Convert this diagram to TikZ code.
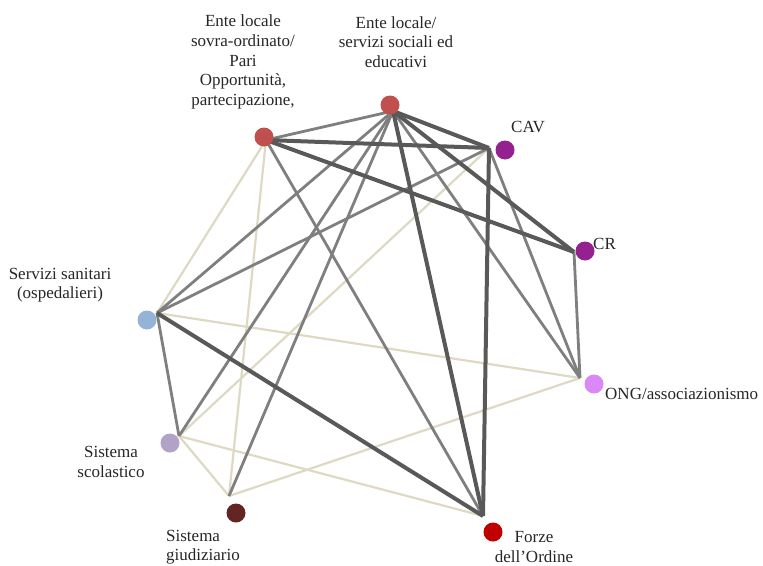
\documentclass[tikz,border=0pt]{standalone}
\usepackage{fontspec}
\setmainfont{Liberation Serif}
\definecolor{thickc}{HTML}{595959}
\definecolor{grayc}{HTML}{7F7F7F}
\definecolor{beigec}{HTML}{DDD9C3}
\definecolor{redn}{HTML}{C0504D}
\definecolor{purpn}{HTML}{93218F}
\definecolor{bluen}{HTML}{95B3D7}
\definecolor{lilacn}{HTML}{B2A2C7}
\definecolor{maroonn}{HTML}{632523}
\definecolor{forzen}{HTML}{C00000}
\definecolor{ongn}{HTML}{DA88F5}
\tikzset{
  dot/.style={circle,minimum size=19pt,inner sep=0pt,fill=#1},
  strong/.style={draw=thickc,line width=4pt},
  medium/.style={draw=grayc,line width=2.8pt},
  weak/.style={draw=beigec,line width=2.2pt},
  lbl/.style={inner sep=0pt,font=\fontsize{17}{19.6}\selectfont,text=black!85}
}
\begin{document}
\begin{tikzpicture}[x=1pt,y=-1pt]
\useasboundingbox (0,0) rectangle (763,565);
% hubs where connectors meet
\coordinate (hS) at (266,140);
\coordinate (hE) at (393,111);
\coordinate (hCAV) at (489,148);
\coordinate (hCR) at (574,252);
\coordinate (hONG) at (580,378);
\coordinate (hFO) at (483,516);
\coordinate (hSG) at (229,496);
\coordinate (hSC) at (179,436);
\coordinate (hSS) at (157,313);
% weak ties
\draw[weak] (hS) -- (hSS);
\draw[weak] (hS) -- (hSG);
\draw[weak] (hCAV) -- (hSC);
\draw[weak] (hSS) -- (hONG);
\draw[weak] (hSG) -- (hONG);
\draw[weak] (hSC) -- (hSG);
\draw[weak] (hSC) -- (hFO);
% medium ties
\draw[medium] (hS) -- (hE);
\draw[medium] (hS) -- (hFO);
\draw[medium] (hE) -- (hSS);
\draw[medium] (hE) -- (hSC);
\draw[medium] (hE) -- (hSG);
\draw[medium] (hE) -- (hONG);
\draw[medium] (hCAV) -- (hONG);
\draw[medium] (hCAV) -- (hSS);
\draw[medium] (hCR) -- (hONG);
\draw[medium] (hSS) -- (hSC);
% strong ties
\draw[strong] (hS) -- (hCAV);
\draw[strong] (hS) -- (hCR);
\draw[strong] (hE) -- (hCAV);
\draw[strong] (hE) -- (hCR);
\draw[strong] (hE) -- (hFO);
\draw[strong] (hCAV) -- (hFO);
\draw[strong] (hSS) -- (hFO);
% nodes
\node[dot=redn] (S) at (264,137) {};
\node[dot=redn] (E) at (390,105) {};
\node[dot=purpn] (CAV) at (505,150) {};
\node[dot=purpn] (CR) at (585,251) {};
\node[dot=bluen] (SS) at (147,320) {};
\node[dot=lilacn] (SC) at (170,443) {};
\node[dot=maroonn] (SG) at (236,513) {};
\node[dot=forzen] (FO) at (493,532) {};
\node[dot=ongn] (ONG) at (594,384) {};
% labels
\node[lbl,align=center] (lS) at (243,62) {Ente locale\\sovra-ordinato/\\Pari\\Opportunità,\\partecipazione,};
\node[lbl,align=center] (lE) at (396,42) {Ente locale/\\servizi sociali ed\\educativi};
\node[lbl,anchor=west] (lCAV) at (511,127) {CAV};
\node[lbl,anchor=west] (lCR) at (593,244) {CR};
\node[lbl,align=center] (lSS) at (60,285) {Servizi sanitari\\(ospedalieri)};
\node[lbl,align=center] (lSC) at (111,462) {Sistema\\scolastico};
\node[lbl,align=left,anchor=west] (lSG) at (166,547) {Sistema\\giudiziario};
\node[lbl,align=center] (lFO) at (534,547) {Forze\\dell’Ordine};
\node[lbl,anchor=west] (lONG) at (605,394) {ONG/associazionismo};
\end{tikzpicture}
\end{document}
